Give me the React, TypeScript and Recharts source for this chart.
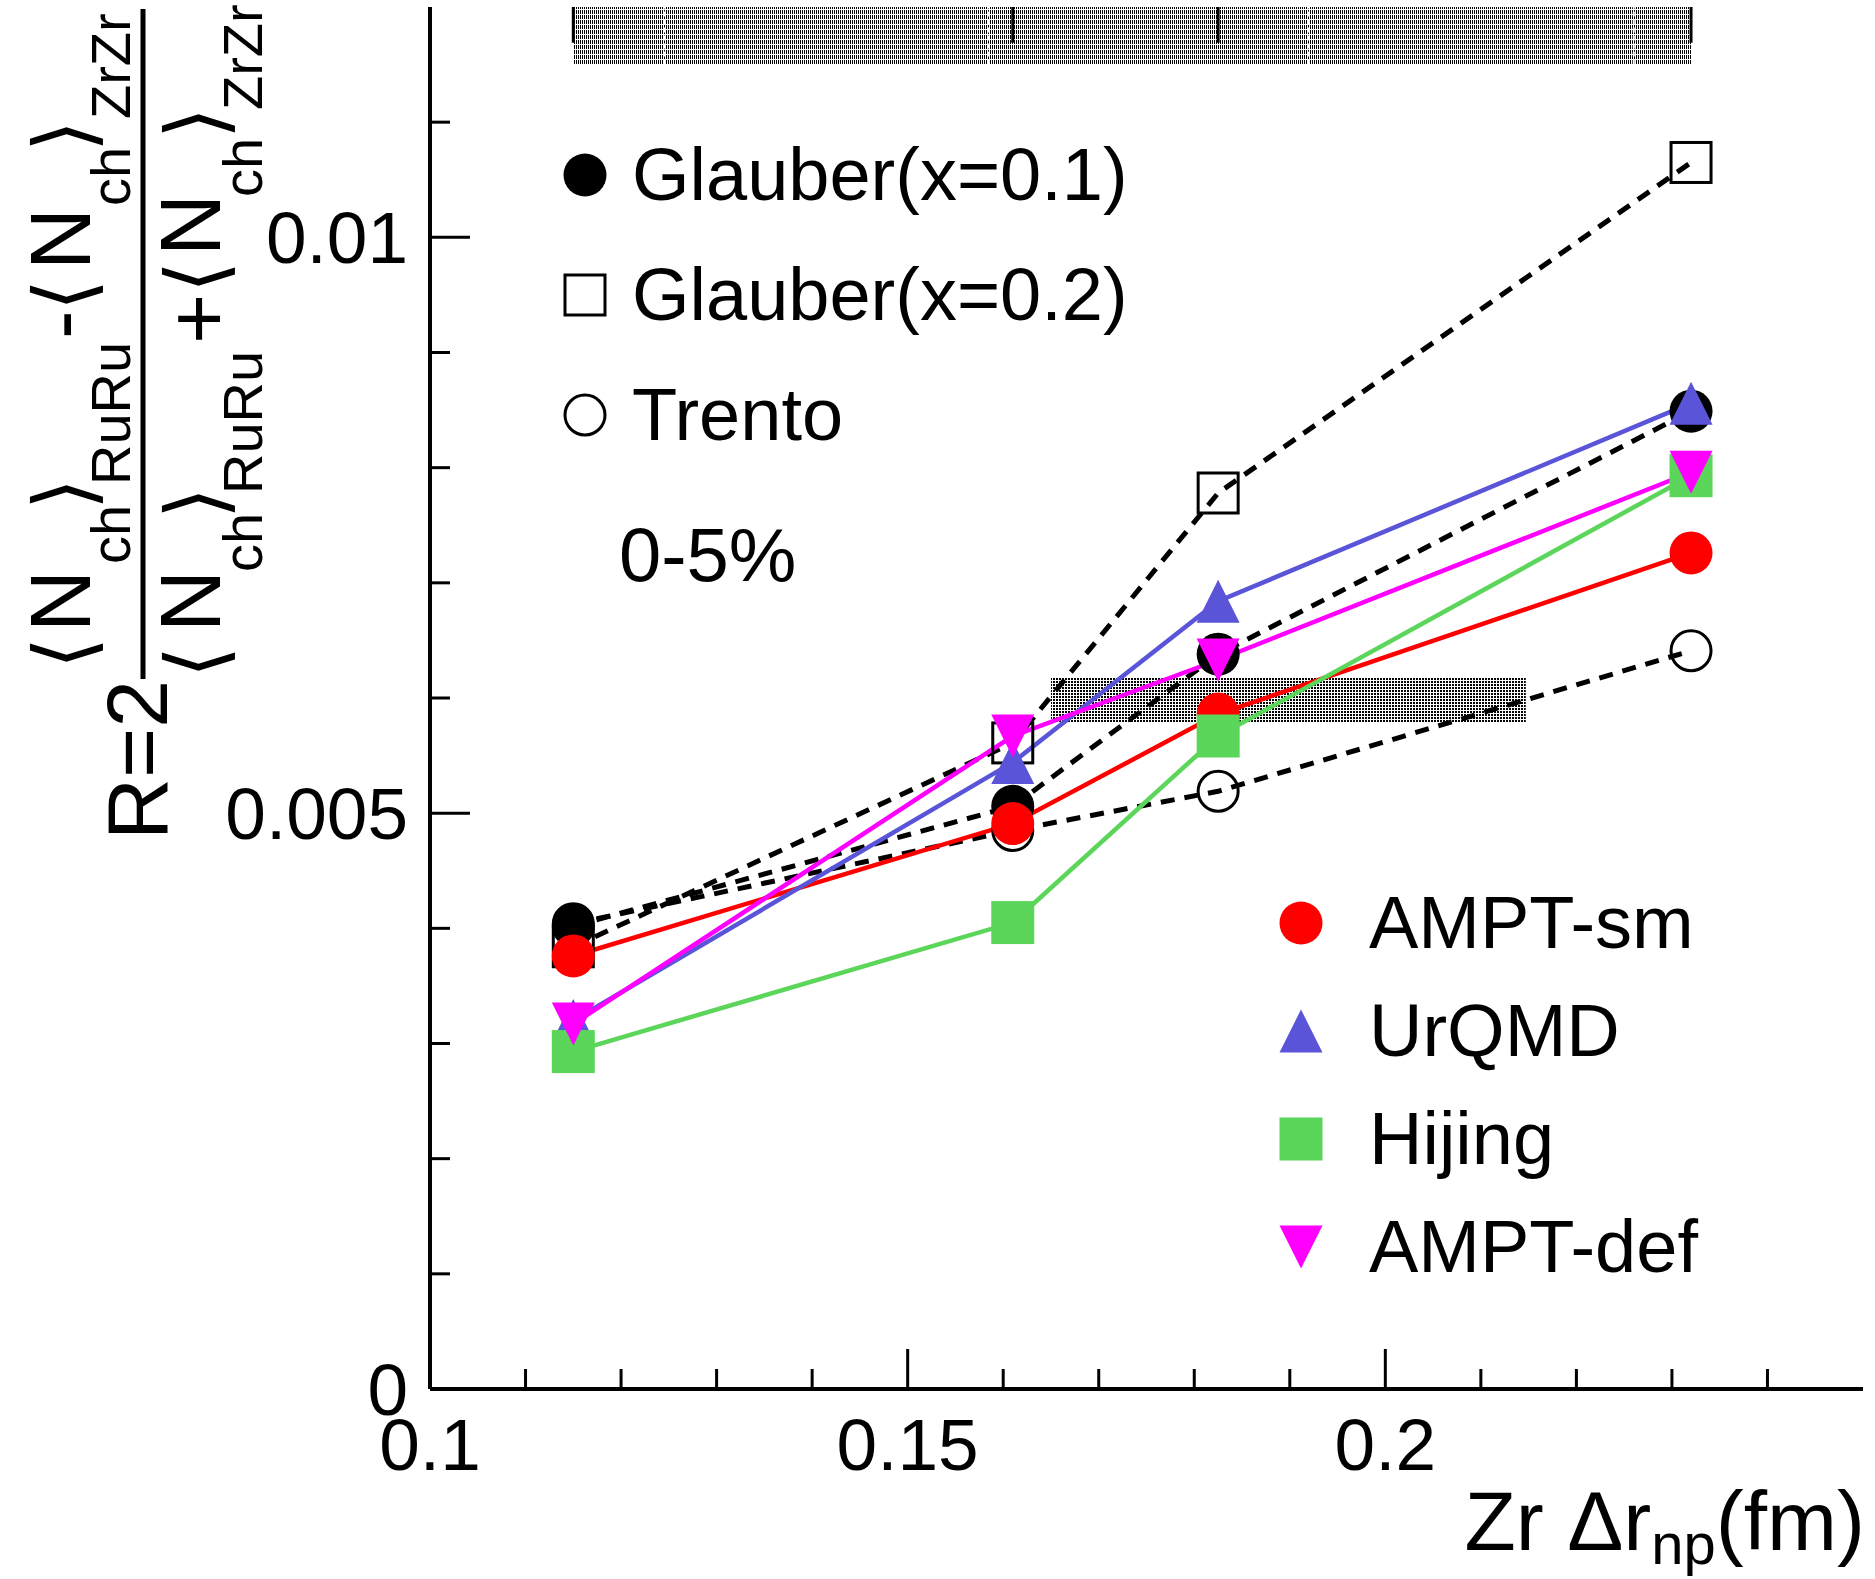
import React from 'react';
import { LineChart, Line, XAxis, YAxis, ReferenceArea, ReferenceLine, Legend } from 'recharts';

// Zr neutron-skin values (fm) and the ratio R for each model
const deltaRnp = [0.115, 0.161, 0.1825, 0.232];
const glauber01 = [0.00402, 0.00506, 0.00638, 0.00849];
const glauber02 = [0.00384, 0.00561, 0.00778, 0.01065];
const trento = [0.00404, 0.00485, 0.00519, 0.00641];
const amptSm = [0.00376, 0.00491, 0.00586, 0.00726];
const urqmd = [0.0032, 0.00544, 0.00684, 0.00856];
const hijing = [0.00293, 0.00405, 0.00567, 0.00793];
const amptDef = [0.00317, 0.00567, 0.00633, 0.00796];

// shaded bands
const topBandX = [0.115, 0.232];
const topBandY = [0.0115, 0.012];
const topBandMarkY = 0.01169;
const topBandSeams = [0.1245, 0.1585, 0.192, 0.226];
const midBandX = [0.165, 0.2147];
const midBandY = [0.00579, 0.00618];

// axes
const xTicks = [0.1, 0.11, 0.12, 0.13, 0.14, 0.15, 0.16, 0.17, 0.18, 0.19, 0.2, 0.21, 0.22, 0.23, 0.24];
const xLabelTicks = [0.1, 0.15, 0.2];
const yTicks = [0, 0.001, 0.002, 0.003, 0.004, 0.005, 0.006, 0.007, 0.008, 0.009, 0.01, 0.011];
const yLabelTicks = [0, 0.005, 0.01];

const W = 1875;
const H = 1579;
const MARGIN_TOP = 7;
const FONT = "'Liberation Sans', Arial, Helvetica, sans-serif";
const MATH_FONT = "'DejaVu Sans', sans-serif";

type Shape = 'circle' | 'square' | 'triangleUp' | 'triangleDown';

interface Series {
  key: string;
  name: string;
  values: number[];
  color: string;
  shape: Shape;
  open?: boolean;
  dashed?: boolean;
}

// drawing order: later series sit on top
const series: Series[] = [
  { key: 'glauber02', name: 'Glauber(x=0.2)', values: glauber02, color: '#000000', shape: 'square', open: true, dashed: true },
  { key: 'trento', name: 'Trento', values: trento, color: '#000000', shape: 'circle', open: true, dashed: true },
  { key: 'glauber01', name: 'Glauber(x=0.1)', values: glauber01, color: '#000000', shape: 'circle', dashed: true },
  { key: 'amptSm', name: 'AMPT-sm', values: amptSm, color: '#ff0000', shape: 'circle' },
  { key: 'urqmd', name: 'UrQMD', values: urqmd, color: '#5a55d8', shape: 'triangleUp' },
  { key: 'hijing', name: 'Hijing', values: hijing, color: '#5bd65a', shape: 'square' },
  { key: 'amptDef', name: 'AMPT-def', values: amptDef, color: '#ff00ff', shape: 'triangleDown' },
];

const rows = deltaRnp.map((x, i) => {
  const row: Record<string, number> = { x };
  series.forEach((s) => {
    row[s.key] = s.values[i];
  });
  return row;
});

const legendModels = ['glauber01', 'glauber02', 'trento'];
const legendGenerators = ['amptSm', 'urqmd', 'hijing', 'amptDef'];

const Marker = ({ cx, cy, shape, color, open, size = 43 }: { cx: number; cy: number; shape: Shape; color: string; open?: boolean; size?: number }) => {
  const h = size / 2;
  const paint = open ? { fill: 'none', stroke: color, strokeWidth: 3 } : { fill: color, stroke: 'none' };
  const inset = open ? 1.5 : 0;
  switch (shape) {
    case 'circle':
      return <circle cx={cx} cy={cy} r={h - inset} {...paint} />;
    case 'square':
      return <rect x={cx - h + inset} y={cy - h + inset} width={size - 2 * inset} height={size - 2 * inset} {...paint} />;
    case 'triangleUp':
      return <polygon points={`${cx},${cy - h} ${cx - h},${cy + h} ${cx + h},${cy + h}`} {...paint} />;
    default:
      return <polygon points={`${cx - h},${cy - h} ${cx + h},${cy - h} ${cx},${cy + h}`} {...paint} />;
  }
};

const XTick = (props: any) => {
  const { x, y, payload } = props;
  const major = xLabelTicks.includes(payload.value);
  return (
    <g>
      <line x1={x} x2={x} y1={y} y2={y - (major ? 40 : 20)} stroke="#000" strokeWidth={3} />
      {major && (
        <text x={x} y={y + 81} textAnchor="middle" fontSize={73} fill="#000">
          {String(payload.value)}
        </text>
      )}
    </g>
  );
};

const YTickLeft = (props: any) => {
  const { x, y, payload } = props;
  const major = yLabelTicks.includes(payload.value);
  return (
    <g>
      <line x1={x} x2={x + (major ? 40 : 20)} y1={y} y2={y} stroke="#000" strokeWidth={3} />
      {major && (
        <text x={x - 22} y={y + 26} textAnchor="end" fontSize={73} fill="#000">
          {String(payload.value)}
        </text>
      )}
    </g>
  );
};

const YTickRight = (props: any) => {
  const { x, y, payload } = props;
  const major = yLabelTicks.includes(payload.value);
  return <line x1={x} x2={x - (major ? 40 : 20)} y1={y} y2={y} stroke="#000" strokeWidth={3} />;
};

// pieces of the rotated y title: `at` = screen y where the piece starts, `base` = screen x of its baseline
const ratioPieces = [
  { text: 'R=2', at: 840, base: 167, size: 86 },
  { text: '⟨', at: 669, base: 92, size: 82, math: true },
  { text: 'N', at: 632, base: 90, size: 86 },
  { text: 'ch', at: 564, base: 130, size: 56 },
  { text: '⟩', at: 510, base: 92, size: 82, math: true },
  { text: 'RuRu', at: 485, base: 130, size: 56 },
  { text: '-', at: 339, base: 90, size: 86 },
  { text: '⟨', at: 311, base: 92, size: 82, math: true },
  { text: 'N', at: 270, base: 90, size: 86 },
  { text: 'ch', at: 206, base: 130, size: 56 },
  { text: '⟩', at: 152, base: 92, size: 82, math: true },
  { text: 'ZrZr', at: 119, base: 130, size: 56 },
  { text: '⟨', at: 678, base: 224, size: 82, math: true },
  { text: 'N', at: 632, base: 220, size: 86 },
  { text: 'ch', at: 572, base: 262, size: 56 },
  { text: '⟩', at: 519, base: 224, size: 82, math: true },
  { text: 'RuRu', at: 494, base: 262, size: 56 },
  { text: '+', at: 344, base: 228, size: 86 },
  { text: '⟨', at: 293, base: 224, size: 82, math: true },
  { text: 'N', at: 256, base: 220, size: 86 },
  { text: 'ch', at: 197, base: 262, size: 56 },
  { text: '⟩', at: 139, base: 224, size: 82, math: true },
  { text: 'ZrZr', at: 110, base: 262, size: 56 },
];

const RatioTitle = (props: any) => {
  const vb = props.viewBox ?? { x: 0, y: MARGIN_TOP };
  return (
    <g transform={`translate(${vb.x},${vb.y - MARGIN_TOP}) rotate(-90)`} fill="#000">
      {ratioPieces.map((p, i) => (
        <text key={i} x={-p.at} y={p.base} fontSize={p.size} fontFamily={p.math ? MATH_FONT : FONT}>
          {p.text}
        </text>
      ))}
      <line x1={-679} x2={-9} y1={143} y2={143} stroke="#000" strokeWidth={5} />
    </g>
  );
};

const XTitle = (props: any) => {
  const vb = props.viewBox ?? { x: 430, y: 1389, width: 1433, height: 190 };
  return (
    <text x={vb.x + vb.width + 2} y={vb.y + 161} textAnchor="end" fontSize={84} fill="#000">
      Zr Δr
      <tspan fontSize={58} dy={14}>np</tspan>
      <tspan dy={-14}>(fm)</tspan>
    </text>
  );
};

const LegendRow = ({ s, label, cx, cy, textX }: { s: Series; label: string; cx: number; cy: number; textX: number }) => (
  <>
    <svg width={60} height={60} style={{ position: 'absolute', left: cx - 30, top: cy - 30, overflow: 'visible' }}>
      <Marker cx={30} cy={30} shape={s.shape} color={s.color} open={s.open} />
    </svg>
    <div style={{ position: 'absolute', left: textX, top: cy - 37, fontSize: 74, lineHeight: '74px', whiteSpace: 'nowrap', color: '#000' }}>
      {label}
    </div>
  </>
);

const renderLegend = (props: any) => {
  const payload: any[] = props.payload ?? [];
  const byKey: Record<string, any> = {};
  payload.forEach((p) => {
    byKey[p.dataKey] = p;
  });
  const find = (key: string) => series.find((s) => s.key === key)!;
  return (
    <div style={{ position: 'relative', fontFamily: FONT }}>
      {legendModels.map((k, i) => (
        <LegendRow key={k} s={find(k)} label={byKey[k]?.value ?? find(k).name} cx={585} cy={175 + i * 120} textX={632} />
      ))}
      <div style={{ position: 'absolute', left: 619, top: 517, fontSize: 76, lineHeight: '76px', whiteSpace: 'nowrap', color: '#000' }}>0-5%</div>
      {legendGenerators.map((k, i) => (
        <LegendRow key={k} s={find(k)} label={byKey[k]?.value ?? find(k).name} cx={1301} cy={923 + i * 108} textX={1369} />
      ))}
    </div>
  );
};

const App: React.FC = () => {
  return (
    <div style={{ position: 'absolute', left: 0, top: 0, width: W, height: H, background: '#fff', fontFamily: FONT }}>
      <LineChart width={W} height={H} data={rows} margin={{ top: MARGIN_TOP, right: 12, bottom: 0, left: 0 }}>
        <defs>
          <pattern id="bandTop" width="2" height="5" patternUnits="userSpaceOnUse">
            <rect width="1" height="4" fill="#000" />
          </pattern>
          <pattern id="bandMid" width="3" height="3" patternUnits="userSpaceOnUse">
            <rect width="2" height="2" fill="#000" />
          </pattern>
        </defs>
        <XAxis
          xAxisId="x"
          dataKey="x"
          type="number"
          domain={[0.1, 0.25]}
          ticks={xTicks}
          interval={0}
          height={190}
          tickSize={0}
          tickMargin={0}
          tickLine={false}
          axisLine={{ stroke: '#000', strokeWidth: 4 }}
          tick={(p: any) => <XTick {...p} />}
          label={(p: any) => <XTitle {...p} />}
        />
        <XAxis xAxisId="top" dataKey="x" type="number" orientation="top" domain={[0.1, 0.25]} height={0} tick={false} tickLine={false} axisLine={{ stroke: '#000', strokeWidth: 4 }} />
        <YAxis
          yAxisId="y"
          type="number"
          domain={[0, 0.012]}
          ticks={yTicks}
          interval={0}
          width={430}
          tickSize={0}
          tickMargin={0}
          tickLine={false}
          axisLine={{ stroke: '#000', strokeWidth: 4 }}
          tick={(p: any) => <YTickLeft {...p} />}
          label={(p: any) => <RatioTitle {...p} />}
        />
        <YAxis
          yAxisId="right"
          orientation="right"
          type="number"
          domain={[0, 0.012]}
          ticks={yTicks}
          interval={0}
          width={0}
          tickSize={0}
          tickMargin={0}
          tickLine={false}
          axisLine={{ stroke: '#000', strokeWidth: 4 }}
          tick={(p: any) => <YTickRight {...p} />}
        />

        <ReferenceArea xAxisId="x" yAxisId="y" x1={topBandX[0]} x2={topBandX[1]} y1={topBandY[0]} y2={topBandY[1]} fill="url(#bandTop)" fillOpacity={1} stroke="none" ifOverflow="visible" />
        {topBandSeams.map((v) => (
          <ReferenceLine key={`seam-${v}`} xAxisId="x" yAxisId="y" segment={[{ x: v, y: topBandY[0] }, { x: v, y: topBandY[1] }]} stroke="#fff" strokeWidth={2} strokeDasharray="5 3" ifOverflow="visible" />
        ))}
        {deltaRnp.map((v) => (
          <ReferenceLine key={`mark-${v}`} xAxisId="x" yAxisId="y" segment={[{ x: v, y: topBandMarkY }, { x: v, y: topBandY[1] }]} stroke="#000" strokeWidth={3} ifOverflow="visible" />
        ))}
        <ReferenceArea xAxisId="x" yAxisId="y" x1={midBandX[0]} x2={midBandX[1]} y1={midBandY[0]} y2={midBandY[1]} fill="url(#bandMid)" fillOpacity={1} stroke="none" ifOverflow="visible" />

        {series.map((s) => (
          <Line
            key={s.key}
            xAxisId="x"
            yAxisId="y"
            type="linear"
            dataKey={s.key}
            name={s.name}
            stroke={s.color}
            strokeWidth={s.dashed ? 5 : 4.5}
            strokeDasharray={s.dashed ? '14 10' : undefined}
            dot={(p: any) => <Marker key={`${s.key}-${p.index}`} cx={p.cx} cy={p.cy} shape={s.shape} color={s.color} open={s.open} />}
            activeDot={false}
            isAnimationActive={false}
          />
        ))}

        <Legend
          layout="horizontal"
          verticalAlign="middle"
          align="center"
          content={renderLegend}
          wrapperStyle={{ position: 'absolute', left: 0, top: 0, width: 0, height: 0, overflow: 'visible' }}
        />
      </LineChart>
    </div>
  );
};

export default App;
